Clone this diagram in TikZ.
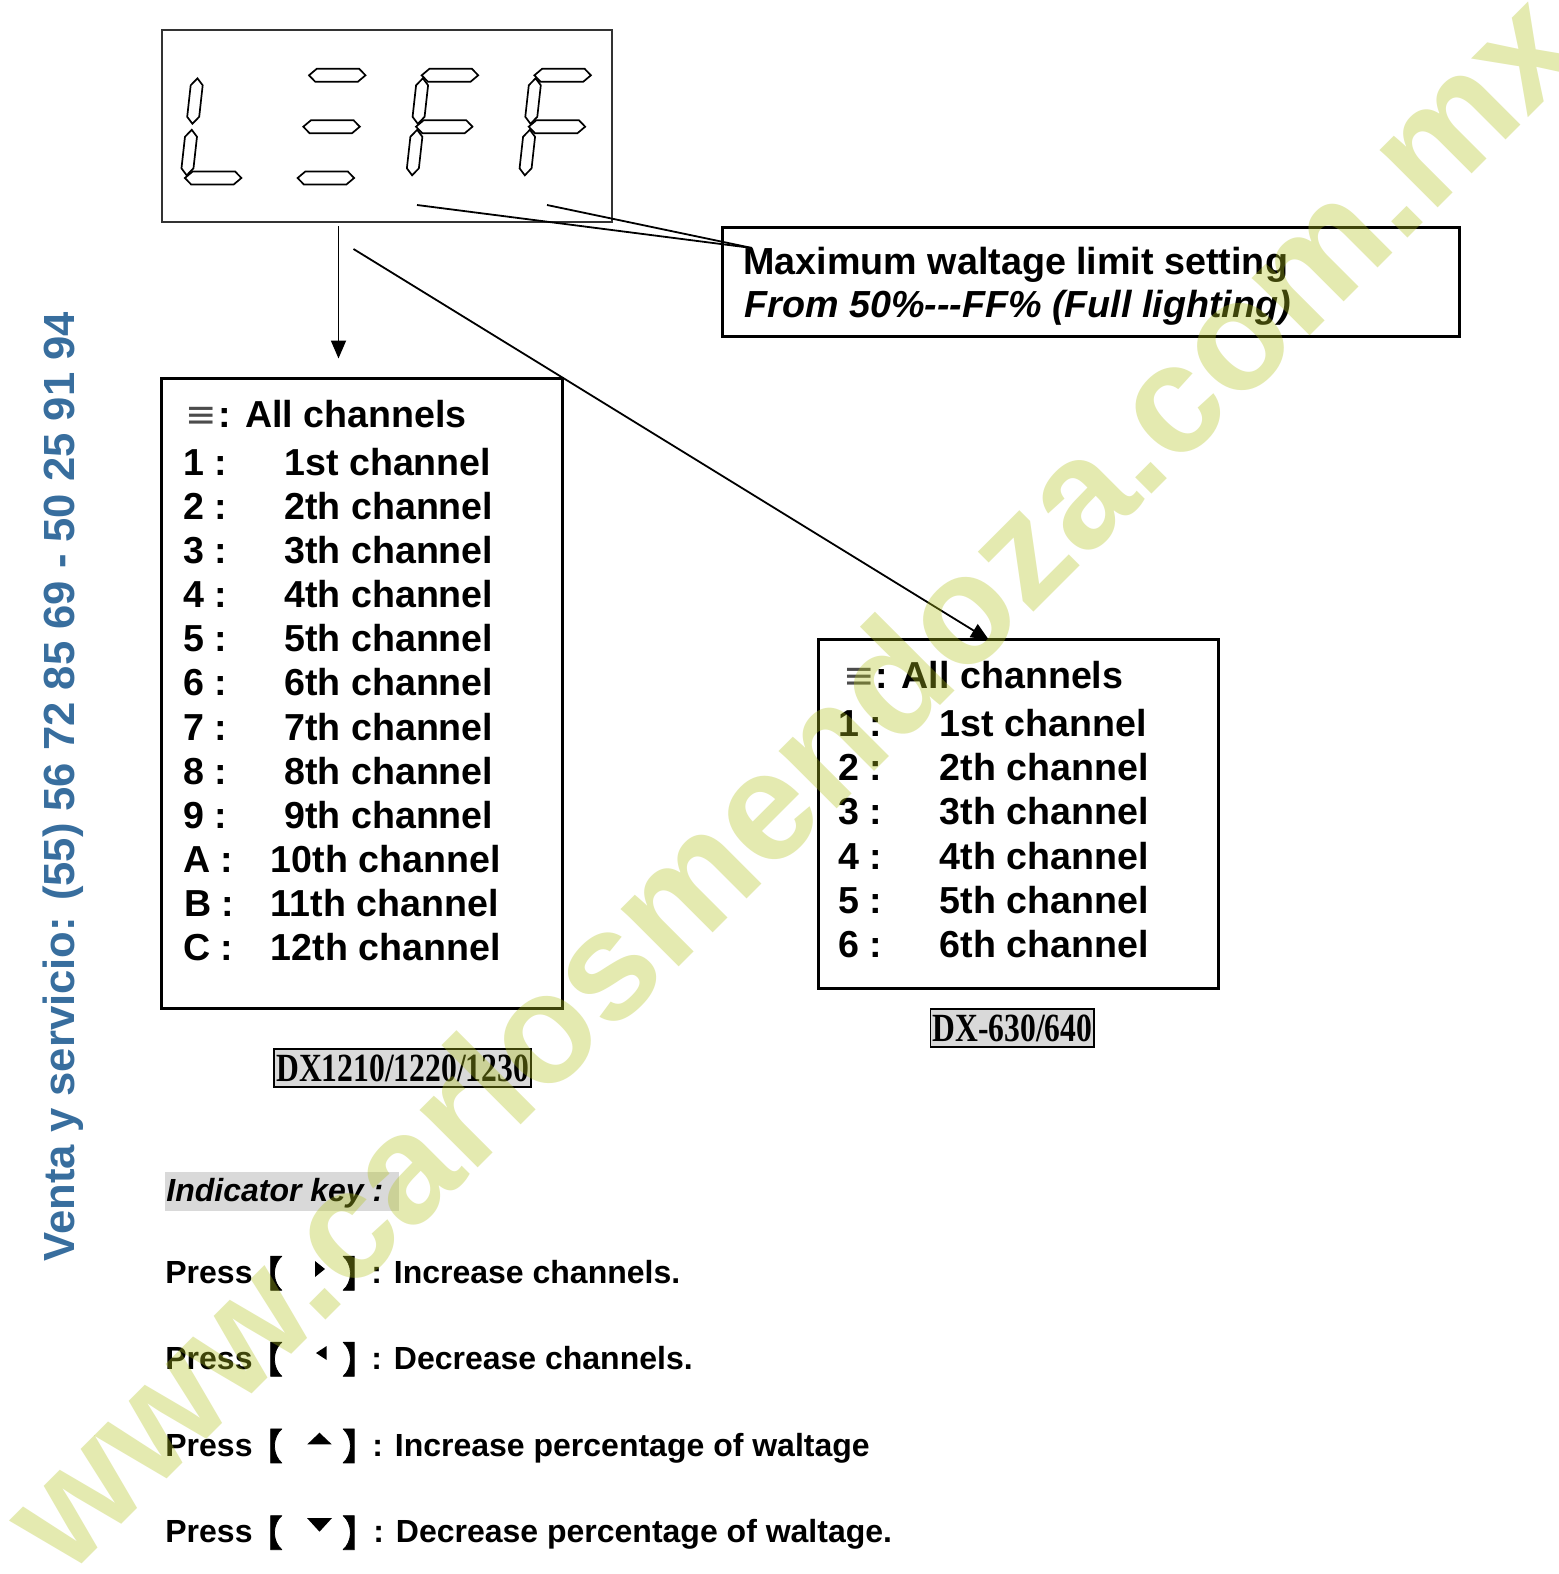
\documentclass[tikz,border=0pt]{standalone}
\usepackage{fontspec}
\setmainfont{Liberation Sans}
\newfontfamily\cjk[FakeBold=2]{Noto Sans CJK SC}
\newfontfamily\dejavu{DejaVu Sans}
\newfontfamily\tnr{Liberation Serif}
\usetikzlibrary{arrows.meta}
\definecolor{wmcol}{RGB}{178,195,29}
\definecolor{bluetxt}{RGB}{56,110,158}
\definecolor{labgray}{RGB}{217,217,217}
\newcommand\lstfont{\bfseries\fontsize{18.8pt}{22pt}\selectfont}
\newcommand\annfont{\bfseries\fontsize{18.85pt}{22pt}\selectfont}
\newcommand\keyfont{\bfseries\fontsize{16pt}{18pt}\selectfont}
\newcommand\labfont{\tnr\bfseries\fontsize{20pt}{22pt}\selectfont}
\newcommand\brfont{\cjk\fontsize{18.25pt}{20pt}\selectfont}
\newcommand\eqfont{\dejavu\fontsize{18.8pt}{22pt}\selectfont\color{black!70}}
% seven-segment pieces (local digit frame, pixel units)
\newcommand\hs[1]{\draw[seg] (0,#1) -- ++(7,-6.5) -- ++(42.5,0) -- ++(7,6.5) -- ++(-7,6.5) -- ++(-42.5,0) -- cycle;}
\newcommand\vs[2]{\draw[seg] (1.5,#1) -- ++(6,7) -- (7.5,#2-7) -- (1.5,#2) -- (-4.5,#2-7) -- (-4.5,#1+7) -- cycle;}
\begin{document}
\begin{tikzpicture}[x=0.5pt,y=-0.5pt,
  seg/.style={draw=black, line width=0.85pt, line join=miter},
  box/.style={draw=black, line width=1.5pt, rectangle, inner sep=0pt},
  labbox/.style={draw=black, line width=0.8pt, fill=labgray, rectangle, inner sep=0pt, minimum height=19.1pt, font=\labfont},
  txt/.style={anchor=base west, inner sep=0pt},
  lst/.style={txt, font=\lstfont},
  key/.style={txt, font=\keyfont},
  br/.style={txt, font=\brfont},
  conn/.style={draw=black, line width=0.9pt},
  arr/.style={conn, -{Triangle[length=9pt,width=7.5pt]}}]
\fill[white] (0,0) rectangle (1558,1574);
\useasboundingbox (0,0) rectangle (1558,1574);

% gray fill behind the indicator title
\fill[labgray] (164.6,1171.5) rectangle (398.5,1210.7);

% display box with seven-segment characters
\node[box, line width=0.8pt, draw=black!80, minimum width=225pt, minimum height=96pt] (disp) at (387,126) {};
\begin{scope}[shift={(196.3,75.3)}, xslant=0.111]
  \vs{3}{48.5}\vs{54.5}{100}\hs{102.7}
\end{scope}
\begin{scope}[shift={(309,75.3)}, xslant=0.111]
  \hs{0}\hs{51.4}\hs{102.7}
\end{scope}
\begin{scope}[shift={(421.7,75.3)}, xslant=0.111]
  \hs{0}\vs{3}{48.5}\hs{51.4}\vs{54.5}{100}
\end{scope}
\begin{scope}[shift={(534.4,75.3)}, xslant=0.111]
  \hs{0}\vs{3}{48.5}\hs{51.4}\vs{54.5}{100}
\end{scope}

% boxes
\node[box, minimum width=368.5pt, minimum height=54.7pt] (ann) at (1090.5,281.7) {};
\node[box, minimum width=200.3pt, minimum height=315.2pt] (lbox) at (361.9,693.7) {};
\node[box, minimum width=200.25pt, minimum height=174.65pt] (rbox) at (1018.5,814.2) {};

% annotation text
\node[txt, font=\annfont] (ann1) at (743,274.5) {Maximum waltage limit setting};
\node[txt, font=\annfont\itshape] (ann2) at (744,317.5) {From 50\%-{}-{}-FF\% (Full lighting)};

% connectors
\coordinate (vA) at (338.5,226);
\coordinate (vB) at (338.5,358.5);
\coordinate (dA) at (353.5,249);
\coordinate (dB) at (989,640);
\coordinate (l1) at (417,205);
\coordinate (l2) at (547,205);
\coordinate (lT) at (752,248);
\draw[arr] (vA) -- (vB);
\draw[arr] (dA) -- (dB);
\draw[conn] (l1) -- (lT);
\draw[conn] (l2) -- (lT);

% left list
\node[txt, font=\eqfont] (leq) at (185,427) {≡};
\node[lst] (lall) at (218.5,427) {: All channels};
\foreach \lab/\nm [count=\i from 0] in {1/1st,2/2th,3/3th,4/4th,5/5th,6/6th,7/7th,8/8th,9/9th} {
  \node[lst] (LL\i) at (183,{475+44.17*\i}) {\lab\ :};
  \node[lst] (LN\i) at (284,{475+44.17*\i}) {\nm\ channel};
}
\node[lst] (LLA) at (183,872.5) {A :};
\node[lst] (LNA) at (270.5,872.5) {10th channel};
\node[lst] (LLB) at (184,916.7) {B :};
\node[lst] (LNB) at (270.5,916.7) {11th channel};
\node[lst] (LLC) at (183,960.9) {C :};
\node[lst] (LNC) at (270.5,960.9) {12th channel};

% right list
\node[txt, font=\eqfont] (req) at (843,688.5) {≡};
\node[lst] (rall) at (875,688.5) {: All channels};
\foreach \lab/\nm [count=\i from 0] in {1/1st,2/2th,3/3th,4/4th,5/5th,6/6th} {
  \node[lst] (RL\i) at (838,{736.5+44.17*\i}) {\lab\ :};
  \node[lst] (RN\i) at (939.5,{736.5+44.17*\i}) {\nm\ channel};
}

% model labels
\node[labbox, minimum width=128.5pt] (lab1) at (402.6,1068) {\scalebox{0.79}[1]{DX1210/1220/1230}};
\node[labbox, minimum width=81.8pt] (lab2) at (1012.4,1028.1) {\scalebox{0.79}[1]{DX-630/640}};

% indicator key
\node[key, font=\keyfont\itshape] (ikey) at (166,1201) {Indicator key :};

\node[key] (p1) at (165,1283.3) {Press};
\node[br] (bo1) at (246,1287.1) {【};
\fill (315,1261) -- (315,1277) -- (325,1269) -- cycle;
\node[br] (bc1) at (341.6,1287.1) {】};
\node[key] (d1) at (371,1283.3) {: Increase channels.};

\node[key] (p2) at (165,1369.3) {Press};
\node[br] (bo2) at (246,1373.1) {【};
\fill (326.7,1346) -- (326.7,1360) -- (316,1353) -- cycle;
\node[br] (bc2) at (341.6,1373.1) {】};
\node[key] (d2) at (371,1369.3) {: Decrease channels.};

\node[key] (p3) at (165,1456) {Press};
\node[br] (bo3) at (246,1459.8) {【};
\fill (307.3,1444.3) -- (331.7,1444.3) -- (319.5,1432.7) -- cycle;
\node[br] (bc3) at (341.6,1459.8) {】};
\node[key] (d3) at (372,1456) {: Increase percentage of waltage};

\node[key] (p4) at (165,1542.7) {Press};
\node[br] (bo4) at (246,1546.5) {【};
\fill (307,1518) -- (332,1518) -- (319.5,1531.7) -- cycle;
\node[br] (bc4) at (341.6,1546.5) {】};
\node[key] (d4) at (373,1542.7) {: Decrease percentage of waltage.};

% side text
\node[rotate=90, anchor=base, inner sep=0pt, text=bluetxt, font=\bfseries\fontsize{21.8pt}{24pt}\selectfont] (side) at (74,786.5) {Venta y servicio: (55) 56 72 85 69 - 50 25 91 94};

% watermark
\node[rotate=45, anchor=base, inner sep=0pt, text=wmcol, text opacity=0.35, font=\bfseries\fontsize{77.3pt}{80pt}\selectfont] (wm) at (828,818) {www.carlosmendoza.com.mx};
\end{tikzpicture}
\end{document}
